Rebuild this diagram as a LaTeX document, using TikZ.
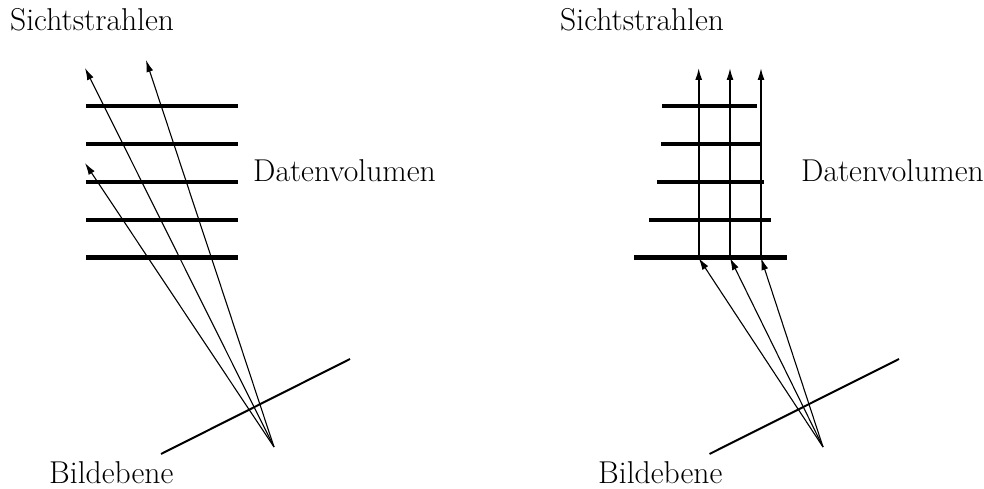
\documentclass[tikz,border=0pt]{standalone}
\usepackage{tikz}
\usetikzlibrary{arrows.meta,positioning}

\begin{document}
\begin{tikzpicture}[
x=1pt, y=1pt,
lbl/.style={anchor=base west, inner sep=0pt, font=\fontsize{31.6}{36}\selectfont},
slice/.style={line width=3.6pt},
frontslice/.style={line width=4.8pt},
plane/.style={line width=2pt},
ray/.style={-{Latex[length=12pt,width=7pt]}, line width=1.1pt},
axray/.style={-{Latex[length=12pt,width=7pt]}, line width=1.6pt}
]
\useasboundingbox (0,0) rectangle (984,489);
% left: perspective
\node[lbl] (sichtL) at (10,458) {Sichtstrahlen};
\node[lbl] (datenL) at (253,307) {Datenvolumen};
\node[lbl] (bildL) at (49,5.5) {Bildebene};
\coordinate (eyeL) at (274,42);
\coordinate (rayLa) at (85,326);
\coordinate (rayLb) at (85,421);
\coordinate (rayLc) at (146,429);
\draw[slice] (86,383) -- (238,383);
\draw[slice] (86,345) -- (238,345);
\draw[slice] (86,307) -- (238,307);
\draw[slice] (86,269) -- (238,269);
\draw[frontslice] (86,231.5) -- (238,231.5);
\draw[plane] (161,35) -- (350,130);
\draw[ray] (eyeL) -- (rayLa);
\draw[ray] (eyeL) -- (rayLb);
\draw[ray] (eyeL) -- (rayLc);
% right: sheared
\node[lbl] (sichtR) at (560,458) {Sichtstrahlen};
\node[lbl] (datenR) at (801,307) {Datenvolumen};
\node[lbl] (bildR) at (598,5.5) {Bildebene};
\coordinate (eyeR) at (823,42);
\coordinate (hitRa) at (698.7,231);
\coordinate (hitRb) at (730,231);
\coordinate (hitRc) at (761,231);
\coordinate (topRa) at (698.7,421);
\coordinate (topRb) at (730,421);
\coordinate (topRc) at (761,421);
\draw[slice] (662,383) -- (757,383);
\draw[slice] (661,345) -- (761,345);
\draw[slice] (657,307) -- (764,307);
\draw[slice] (649,269) -- (771,269);
\draw[frontslice] (634,231.5) -- (787,231.5);
\draw[plane] (709.5,35) -- (899,130);
\draw[ray] (eyeR) -- (hitRa);
\draw[ray] (eyeR) -- (hitRb);
\draw[ray] (eyeR) -- (hitRc);
\draw[axray] (hitRa) -- (topRa);
\draw[axray] (hitRb) -- (topRb);
\draw[axray] (hitRc) -- (topRc);
\end{tikzpicture}
\end{document}
